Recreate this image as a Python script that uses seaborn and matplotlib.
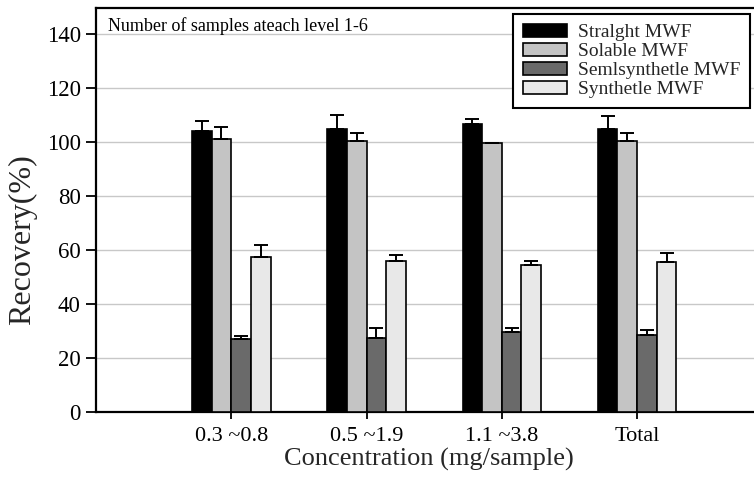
import matplotlib
matplotlib.use("Agg")
import matplotlib.pyplot as plt
import seaborn as sns
import pandas as pd
import numpy as np

categories = ["0.3 ~0.8", "0.5 ~1.9", "1.1 ~3.8", "Total"]
series = ["Stralght MWF", "Solable MWF", "Semlsynthetle MWF", "Synthetle MWF"]
straight = [104.2, 104.8, 106.5, 104.8]
soluble = [101.1, 100.4, 99.6, 100.4]
semisyn = [26.9, 27.5, 29.7, 28.4]
synth = [57.3, 55.9, 54.6, 55.7]
err_straight = [3.6, 5.1, 1.9, 4.8]
err_soluble = [4.5, 2.8, 0.0, 2.8]
err_semisyn = [1.4, 3.7, 1.4, 2.1]
err_synth = [4.4, 2.1, 1.2, 3.1]
colors = ["#000000", "#c4c4c4", "#6a6a6a", "#e8e8e8"]

vals = [straight, soluble, semisyn, synth]
errs = [err_straight, err_soluble, err_semisyn, err_synth]
rows = []
for s, v, e in zip(series, vals, errs):
    for c, vv, ee in zip(categories, v, e):
        rows.append({"conc": c, "rec": vv, "type": s, "err": ee})
df = pd.DataFrame(rows)

sns.set_theme(style="white")
plt.rcParams["font.family"] = ["Liberation Serif", "DejaVu Serif"]

W, H = 754, 479
fig = plt.figure(figsize=(W / 100, H / 100), dpi=100)
ax = fig.add_axes([96 / W, 67 / H, 1 - 96 / W + 0.01, 404 / H])

sns.barplot(data=df, x="conc", y="rec", hue="type", palette=colors,
            width=0.58, edgecolor="black", linewidth=1.2, errorbar=None,
            ax=ax, zorder=3)

# upper-only error bars at the bar centres
for i, s in enumerate(series):
    sub = df[df["type"] == s]
    pats = ax.containers[i].patches
    xs = [p.get_x() + p.get_width() / 2 for p in pats]
    ys = sub["rec"].values
    ee = sub["err"].values
    ax.errorbar(xs, ys, yerr=[np.zeros_like(ee), ee], fmt="none",
                ecolor="black", elinewidth=1.4, capsize=5, capthick=1.4, zorder=4)

ax.set_xlim(-1.0, 3.92)
ax.set_ylim(0, 149.6)
ax.set_yticks(range(0, 141, 20))
ax.yaxis.grid(True, color="#c8c8c8", linewidth=1.0, zorder=0)
ax.set_axisbelow(True)
for side in ["left", "bottom", "top"]:
    ax.spines[side].set_color("black")
    ax.spines[side].set_linewidth(1.6)
ax.spines["right"].set_visible(False)
ax.tick_params(axis="y", which="major", direction="out", length=7, width=1.3,
               colors="black", labelsize=16.5, left=True, pad=4)
ax.tick_params(axis="x", which="major", direction="out", length=5, width=1.3,
               colors="black", labelsize=16, bottom=True, pad=6)
ax.set_xlabel("Concentration (mg/sample)", fontsize=19)
ax.xaxis.set_label_coords(0.50, -0.089)
ax.set_ylabel("Recovery(%)", fontsize=23)
ax.yaxis.set_label_coords(-0.088, 0.426)

ax.text(0.018, 0.955, "Number of samples ateach level 1-6", transform=ax.transAxes,
        fontsize=13, ha="left", va="center", color="black")

leg = ax.legend(loc="upper left", bbox_to_anchor=(513 / W, 1 - 14 / H),
                bbox_transform=fig.transFigure,
                fontsize=14, frameon=True, fancybox=False, framealpha=1,
                handlelength=2.3, handleheight=0.67, labelspacing=0.08,
                borderpad=0.5, handletextpad=0.55, borderaxespad=0)
leg.get_frame().set_edgecolor("black")
leg.get_frame().set_linewidth(1.5)

fig.savefig("out.png", dpi=100)
